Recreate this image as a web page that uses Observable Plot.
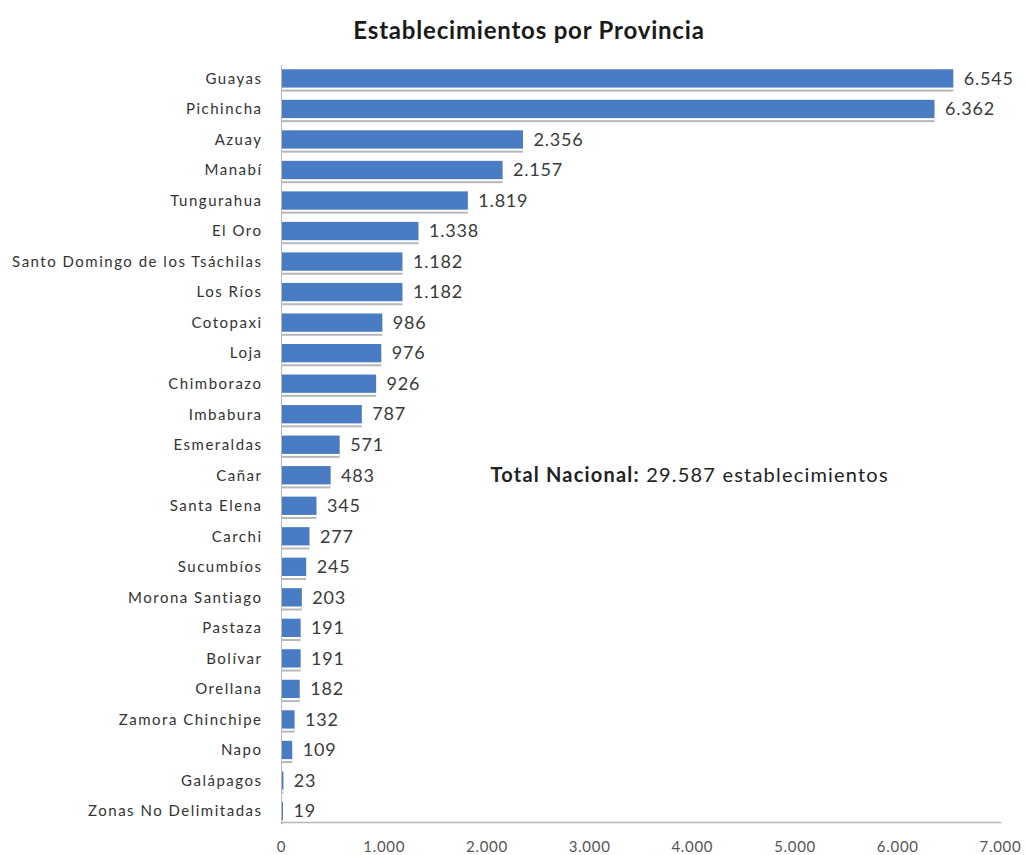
<!DOCTYPE html>
<html>
<head>
<meta charset="utf-8">
<script src="https://cdn.jsdelivr.net/npm/d3@7"></script>
<script src="https://cdn.jsdelivr.net/npm/@observablehq/plot@0.6"></script>
<style>
  html, body { margin: 0; padding: 0; background: #fff; }
  #title { height: 58px; line-height: 60px; text-align: center; padding-left: 32px; font-family: Lato, "Open Sans", sans-serif; font-weight: bold; font-size: 24px; color: #1a1a1a; letter-spacing: 0.8px; }
  #chart svg { display: block; }
</style>
</head>
<body>
<div id="title">Establecimientos por Provincia</div>
<div id="chart"></div>
<script>
const provinces = ["Guayas","Pichincha","Azuay","Manabí","Tungurahua","El Oro","Santo Domingo de los Tsáchilas","Los Ríos","Cotopaxi","Loja","Chimborazo","Imbabura","Esmeraldas","Cañar","Santa Elena","Carchi","Sucumbíos","Morona Santiago","Pastaza","Bolívar","Orellana","Zamora Chinchipe","Napo","Galápagos","Zonas No Delimitadas"];
const values = [6545,6362,2356,2157,1819,1338,1182,1182,986,976,926,787,571,483,345,277,245,203,191,191,182,132,109,23,19];
const xTicks = [0,1000,2000,3000,4000,5000,6000,7000];
const annotationLabel = "Total Nacional:";
const annotationValue = "29.587 establecimientos";
const annotationRow = "Cañar";
const annotationX = 2035;

const data = provinces.map((p, i) => ({province: p, value: values[i]}));
const fmt = d3.formatLocale({decimal: ",", thousands: ".", grouping: [3], currency: ["", ""]}).format(",");

const chart = Plot.plot({
  width: 1026,
  height: 797,
  marginTop: 7,
  marginBottom: 33,
  marginLeft: 281,
  marginRight: 26,
  style: {fontFamily: "Lato, 'Open Sans', sans-serif", background: "#fff"},
  x: {domain: [0, 7000], ticks: xTicks, tickFormat: fmt, label: null},
  y: {domain: provinces, paddingInner: 0.4, paddingOuter: 0.1, align: 0.7, round: false, label: null},
  marks: [
    Plot.barX(data, {x: "value", y: "province", fill: "#b4b8bd", dy: 4}),
    Plot.barX(data, {x: "value", y: "province", fill: "#ffffff", dy: 2}),
    Plot.barX(data, {x: "value", y: "province", fill: "#4a7cc3"}),
    Plot.frame({anchor: "left", stroke: "#b8b8b8"}),
    Plot.frame({anchor: "bottom", stroke: "#b8b8b8", strokeWidth: 1.5}),
    Plot.text(data, {x: "value", y: "province", text: d => fmt(d.value), textAnchor: "start", dx: 10, fontSize: 18, fill: "#3a3a3a", className: "vals"}),
    Plot.text([{x: annotationX, y: annotationRow}], {x: "x", y: "y", text: () => annotationLabel + " " + annotationValue, textAnchor: "start", fontSize: 20, fill: "#222", className: "annot"}),
    Plot.axisX({ticks: xTicks, tickFormat: fmt, tickSize: 0, tickPadding: 19, fontSize: 15, fill: "#555", className: "xax"}),
    Plot.axisY({tickSize: 0, tickPadding: 19, fontSize: 15, fill: "#333", className: "yax"})
  ]
});
document.getElementById("chart").appendChild(chart);

// split the annotation into bold label + regular value
d3.select(chart).selectAll("g.annot text").each(function() {
  const t = d3.select(this);
  t.text(null);
  t.attr("letter-spacing", "1.2px");
  t.append("tspan").attr("font-weight", "bold").text(annotationLabel);
  t.append("tspan").text(" " + annotationValue);
});
d3.select(chart).selectAll("g.yax text").attr("letter-spacing", "1.5px");
d3.select(chart).selectAll("g.xax text").attr("letter-spacing", "0.7px");
d3.select(chart).selectAll("g.vals text").attr("letter-spacing", "0.8px");
</script>
</body>
</html>
